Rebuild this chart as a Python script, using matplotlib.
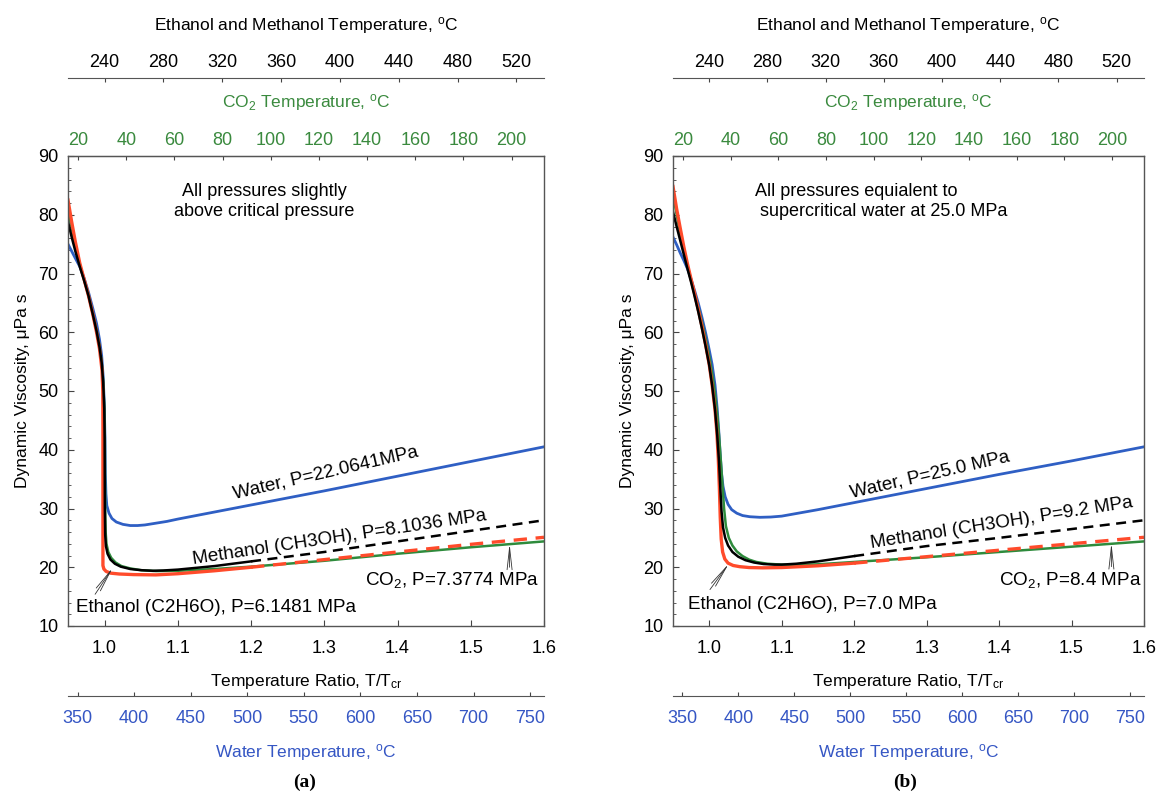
import matplotlib
matplotlib.use("Agg")
import matplotlib.pyplot as plt  # noqa: E402
import numpy as np  # noqa: E402
from matplotlib.ticker import MultipleLocator  # noqa: E402

plt.rcParams["font.family"] = ["Liberation Sans", "DejaVu Sans"]
plt.rcParams["mathtext.fontset"] = "custom"
plt.rcParams["mathtext.rm"] = "Liberation Sans"
plt.rcParams["mathtext.it"] = "Liberation Sans:italic"

W, H = 1161, 793
FS = 12.5      # axis text
FS_NOTE = 13.6  # curve labels

BLUE = "#2f5fc4"
RED = "#ff4b2b"
GREEN = "#2e8b3c"
AX_GREEN = "#3a8a3e"
AX_BLUE = "#3556c4"

# ---- panel (a): pressures slightly above critical ----
water_a_x = [0.95, 0.955, 0.96, 0.966, 0.972, 0.978, 0.984, 0.989, 0.993, 0.996,
             0.998, 0.9995, 1.0005, 1.001, 1.0018, 1.003, 1.006, 1.01, 1.016, 1.025,
             1.035, 1.045, 1.055, 1.07, 1.085, 1.1, 1.15, 1.2, 1.3, 1.4, 1.5, 1.6]
water_a_y = [75.0, 73.8, 72.6, 71.2, 69.2, 66.8, 64.0, 61.5, 58.8, 56.0,
             52.5, 48.0, 42.0, 36.0, 32.5, 30.5, 29.2, 28.3, 27.7, 27.3,
             27.1, 27.1, 27.2, 27.5, 27.8, 28.2, 29.4, 30.6, 33.0, 35.5, 38.0, 40.5]

meth_a_x = [0.95, 0.955, 0.96, 0.966, 0.972, 0.978, 0.984, 0.989, 0.993, 0.996,
            0.998, 0.9995, 1.0, 1.0003, 1.0008, 1.0018, 1.004, 1.008, 1.014, 1.022,
            1.035, 1.05, 1.066, 1.08, 1.1, 1.15, 1.2, 1.3, 1.4, 1.5, 1.6]
meth_a_y = [78.8, 76.2, 73.8, 71.2, 68.8, 66.2, 63.0, 60.2, 57.5, 54.8,
            51.5, 47.0, 42.0, 30.0, 25.5, 23.6, 22.3, 21.3, 20.6, 20.1,
            19.7, 19.5, 19.4, 19.45, 19.6, 20.2, 21.0, 22.6, 24.4, 26.2, 28.0]

co2_a_x = [0.95, 0.955, 0.96, 0.966, 0.972, 0.978, 0.984, 0.989, 0.993, 0.996,
           0.998, 0.9995, 1.0003, 1.0008, 1.0014, 1.0025, 1.005, 1.009, 1.015, 1.023,
           1.035, 1.05, 1.07, 1.1, 1.15, 1.2, 1.3, 1.4, 1.5, 1.6]
co2_a_y = [81.0, 77.8, 74.8, 71.6, 69.0, 66.4, 63.2, 60.4, 57.7, 55.0,
           51.8, 47.5, 42.0, 30.0, 26.0, 24.0, 22.6, 21.6, 20.8, 20.2,
           19.8, 19.5, 19.35, 19.4, 19.7, 20.1, 21.1, 22.3, 23.4, 24.4]

eth_a_x = [0.95, 0.955, 0.96, 0.966, 0.972, 0.978, 0.984, 0.989, 0.993, 0.9965,
           0.9975, 0.9977, 0.9977, 0.999, 1.002, 1.008, 1.02, 1.04, 1.07, 1.1,
           1.15, 1.2, 1.3, 1.4, 1.5, 1.6]
eth_a_y = [82.5, 78.8, 75.4, 71.8, 69.0, 66.2, 63.0, 60.0, 57.2, 53.5,
           50.0, 44.0, 20.3, 19.7, 19.3, 19.0, 18.85, 18.75, 18.7, 18.9,
           19.4, 20.0, 21.3, 22.6, 23.9, 25.1]

# ---- panel (b): pressures equivalent to SCW at 25 MPa ----
water_b_x = [0.95, 0.955, 0.96, 0.965, 0.97, 0.975, 0.98, 0.985, 0.99, 0.995,
             1.0, 1.004, 1.008, 1.011, 1.013, 1.015, 1.017, 1.019, 1.022, 1.026,
             1.031, 1.038, 1.046, 1.056, 1.07, 1.085, 1.1, 1.15, 1.2, 1.3, 1.4,
             1.5, 1.6]
water_b_y = [76.2, 74.9, 73.5, 72.2, 70.8, 69.0, 67.0, 64.9, 62.5, 59.9,
             57.0, 54.5, 51.0, 47.0, 43.5, 39.5, 36.0, 33.8, 32.0, 30.7,
             29.8, 29.2, 28.8, 28.6, 28.5, 28.55, 28.7, 29.8, 31.0, 33.4, 35.8,
             38.1, 40.5]

meth_b_x = [0.95, 0.955, 0.96, 0.965, 0.97, 0.975, 0.98, 0.985, 0.99, 0.995,
            1.0, 1.004, 1.008, 1.011, 1.0135, 1.0155, 1.017, 1.019, 1.022, 1.026,
            1.032, 1.04, 1.05, 1.062, 1.075, 1.09, 1.1, 1.12, 1.15, 1.2, 1.3,
            1.4, 1.5, 1.6]
meth_b_y = [80.5, 78.0, 75.6, 73.2, 70.8, 68.5, 66.0, 63.4, 60.6, 57.6,
            54.4, 51.0, 46.8, 42.5, 38.0, 33.0, 29.5, 26.8, 25.0, 23.7,
            22.6, 21.8, 21.2, 20.8, 20.55, 20.45, 20.45, 20.6, 21.0, 21.9, 23.6,
            25.0, 26.5, 28.0]

co2_b_x = [0.95, 0.955, 0.96, 0.965, 0.97, 0.975, 0.98, 0.985, 0.99, 0.995,
           1.0, 1.004, 1.008, 1.011, 1.0135, 1.0155, 1.018, 1.0205, 1.023, 1.027,
           1.032, 1.038, 1.046, 1.055, 1.065, 1.08, 1.1, 1.12, 1.15, 1.2, 1.3,
           1.4, 1.5, 1.6]
co2_b_y = [83.5, 80.0, 76.9, 74.0, 71.3, 68.9, 66.6, 64.2, 61.7, 58.9,
           55.9, 53.0, 49.5, 46.0, 42.5, 39.0, 34.5, 30.0, 27.0, 25.0,
           23.7, 22.7, 21.9, 21.3, 20.9, 20.6, 20.45, 20.4, 20.5, 20.9, 21.7,
           22.6, 23.5, 24.4]

eth_b_x = [0.95, 0.955, 0.96, 0.965, 0.97, 0.975, 0.98, 0.985, 0.99, 0.995,
           1.0, 1.004, 1.008, 1.0105, 1.0125, 1.014, 1.0152, 1.0165, 1.0185, 1.0215,
           1.026, 1.033, 1.042, 1.055, 1.074, 1.1, 1.15, 1.2, 1.3, 1.4, 1.5, 1.6]
eth_b_y = [84.8, 81.0, 77.7, 74.5, 71.6, 69.0, 66.5, 63.8, 61.0, 57.9,
           54.5, 51.0, 46.8, 43.0, 38.5, 33.5, 28.5, 24.8, 22.6, 21.4,
           20.7, 20.3, 20.1, 19.95, 19.9, 19.95, 20.25, 20.7, 21.8, 22.9, 24.0, 25.1]

# where the methanol / ethanol lines turn dashed
dash_from_a = {"meth": 1.21, "eth": 1.25}
dash_from_b = {"meth": 1.21, "eth": 1.25}

water_ticks = [350, 400, 450, 500, 550, 600, 650, 700, 750]
co2_ticks = [20, 40, 60, 80, 100, 120, 140, 160, 180, 200]
eth_ticks = [240, 280, 320, 360, 400, 440, 480, 520]
ratio_ticks = [1.0, 1.1, 1.2, 1.3, 1.4, 1.5, 1.6]


def water_T(r):
    return np.asarray(r) * 647.096 - 273.15


def water_r(t):
    return (np.asarray(t) + 273.15) / 647.096


def co2_T(r):
    return np.asarray(r) * 304.13 - 273.15


def co2_r(t):
    return (np.asarray(t) + 273.15) / 304.13


def eth_T(r):
    return 240.0 + (np.asarray(r) - 1.0) * 498.0


def eth_r(t):
    return 1.0 + (np.asarray(t) - 240.0) / 498.0


def rect(l, r, t, b):
    return [l / W, 1 - b / H, (r - l) / W, (b - t) / H]


def split_plot(ax, x, y, start, color, lw):
    x = np.asarray(x)
    y = np.asarray(y)
    solid = x <= start
    ax.plot(x[solid], y[solid], color=color, lw=lw, solid_joinstyle="round")
    k = np.argmax(x > start) - 1
    ax.plot(x[k:], y[k:], color=color, lw=lw, ls=(0, (4, 2.6)))


def draw_panel(ax, curves, dash_from):
    ax.set_xlim(0.95, 1.6)
    ax.set_ylim(10, 90)
    water, meth, co2, eth = curves
    ax.plot(*water, color=BLUE, lw=2.0, solid_joinstyle="round")
    ax.plot(*co2, color=GREEN, lw=1.8, solid_joinstyle="round")
    split_plot(ax, *eth, dash_from["eth"], RED, 2.4)
    split_plot(ax, *meth, dash_from["meth"], "black", 1.8)

    for s in ax.spines.values():
        s.set_color("#555555")
        s.set_linewidth(1.0)
    ax.set_xticks(ratio_ticks)
    ax.set_xticklabels([f"{v:.1f}" for v in ratio_ticks])
    ax.yaxis.set_major_locator(MultipleLocator(10))
    ax.yaxis.set_minor_locator(MultipleLocator(2))
    ax.tick_params(axis="both", which="major", direction="in", length=4,
                   labelsize=FS + 0.5, top=False, right=False, color="#444444")
    ax.tick_params(axis="y", which="minor", direction="in", length=2, right=False,
                   color="#444444")
    ax.tick_params(axis="x", pad=10)
    ax.tick_params(axis="y", pad=7)
    ax.set_xlabel("Temperature Ratio, T/T$_{\\rm cr}$", fontsize=FS, labelpad=11)
    ax.set_ylabel("Dynamic Viscosity, \u03bcPa s", fontsize=FS, labelpad=6)

    co2 = ax.secondary_xaxis("top", functions=(co2_T, co2_r))
    co2.set_xticks(co2_ticks)
    co2.tick_params(direction="in", length=3, labelsize=FS + 0.5, labelcolor=AX_GREEN,
                    color="#444444", pad=5)
    co2.spines["top"].set_color("#555555")
    co2.set_xlabel("CO$_2$ Temperature, $^{\\rm o}$C", fontsize=FS,
                   color=AX_GREEN, labelpad=18)

    eth = ax.secondary_xaxis(1.166, functions=(eth_T, eth_r))
    eth.set_xticks(eth_ticks)
    eth.tick_params(direction="in", length=3, labelsize=FS + 0.5, color="#444444",
                    pad=5)
    eth.spines["top"].set_color("#555555")
    eth.set_xlabel("Ethanol and Methanol Temperature, $^{\\rm o}$C",
                   fontsize=FS, labelpad=17)

    wat = ax.secondary_xaxis(-0.149, functions=(water_T, water_r))
    wat.set_xticks(water_ticks)
    wat.tick_params(direction="in", length=3, labelsize=FS + 0.5, labelcolor=AX_BLUE,
                    color="#444444", pad=10)
    wat.spines["bottom"].set_color("#555555")
    wat.set_xlabel("Water Temperature, $^{\\rm o}$C", fontsize=FS,
                   color=AX_BLUE, labelpad=11)


def fan_arrow(ax, head, tail):
    ax.annotate("", xy=head, xytext=tail,
                arrowprops=dict(arrowstyle="->,head_length=1.6,head_width=0.18",
                                lw=0.6, color="#333333", shrinkA=0, shrinkB=0))


fig = plt.figure(figsize=(W / 100, H / 100), dpi=100)

ax_a = fig.add_axes(rect(68, 544, 156, 626))
draw_panel(ax_a, [(water_a_x, water_a_y), (meth_a_x, meth_a_y),
                  (co2_a_x, co2_a_y), (eth_a_x, eth_a_y)], dash_from_a)
ax_a.text(1.218, 82.3, "All pressures slightly\nabove critical pressure",
          ha="center", va="center", fontsize=FS + 0.5, linespacing=1.2)
ax_a.text(1.302, 36.0, "Water, P=22.0641MPa", rotation=13, rotation_mode="anchor",
          ha="center", va="center", fontsize=FS_NOTE)
ax_a.text(1.321, 25.0, "Methanol (CH3OH), P=8.1036 MPa", rotation=8.5,
          rotation_mode="anchor", ha="center", va="center", fontsize=FS_NOTE)
ax_a.text(1.475, 17.8, "CO$_2$, P=7.3774 MPa", ha="center", va="center",
          fontsize=FS_NOTE)
ax_a.text(0.961, 13.2, "Ethanol (C2H6O), P=6.1481 MPa", ha="left", va="center",
          fontsize=FS_NOTE)
fan_arrow(ax_a, (1.553, 24.0), (1.553, 20.0))
fan_arrow(ax_a, (1.011, 19.9), (0.987, 15.4))

ax_b = fig.add_axes(rect(673, 1144, 156, 626))
draw_panel(ax_b, [(water_b_x, water_b_y), (meth_b_x, meth_b_y),
                  (co2_b_x, co2_b_y), (eth_b_x, eth_b_y)], dash_from_b)
ax_b.text(1.063, 82.3, "All pressures equialent to\n supercritical water at 25.0 MPa",
          ha="left", va="center", fontsize=FS + 0.5, linespacing=1.2)
ax_b.text(1.304, 35.7, "Water, P=25.0 MPa", rotation=13, rotation_mode="anchor",
          ha="center", va="center", fontsize=FS_NOTE)
ax_b.text(1.403, 27.5, "Methanol (CH3OH), P=9.2 MPa", rotation=8.9,
          rotation_mode="anchor", ha="center", va="center", fontsize=FS_NOTE)
ax_b.text(1.498, 17.8, "CO$_2$, P=8.4 MPa", ha="center", va="center",
          fontsize=FS_NOTE)
ax_b.text(0.971, 13.6, "Ethanol (C2H6O), P=7.0 MPa", ha="left", va="center",
          fontsize=FS_NOTE)
fan_arrow(ax_b, (1.555, 24.1), (1.555, 20.1))
fan_arrow(ax_b, (1.027, 20.6), (1.001, 16.2))

fig.text(305 / W, 1 - 782 / H, "(a)", ha="center", va="center", fontsize=14,
         fontweight="bold", family="Liberation Serif")
fig.text(905 / W, 1 - 782 / H, "(b)", ha="center", va="center", fontsize=14,
         fontweight="bold", family="Liberation Serif")

fig.savefig("out.png", dpi=100)
plt.close(fig)
